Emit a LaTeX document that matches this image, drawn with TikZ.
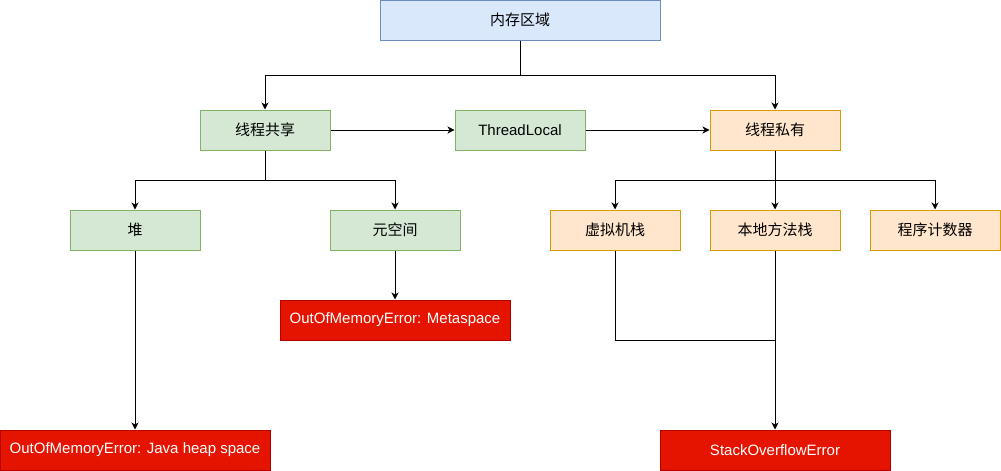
\documentclass[tikz,border=0pt]{standalone}
\usepackage{fontspec}
\setmainfont{Liberation Sans}
\newfontfamily\cjk{Noto Sans CJK SC}
\usetikzlibrary{arrows.meta}

\definecolor{blueFill}{HTML}{DAE8FC}
\definecolor{blueLine}{HTML}{6C8EBF}
\definecolor{greenFill}{HTML}{D5E8D4}
\definecolor{greenLine}{HTML}{82B366}
\definecolor{orangeFill}{HTML}{FFE6CC}
\definecolor{orangeLine}{HTML}{D79B00}
\definecolor{redFill}{HTML}{E51400}
\definecolor{redLine}{HTML}{B20000}

\tikzset{
    box/.style={draw, line width=1pt, minimum width=130pt, minimum height=40pt, inner sep=0pt,
                font=\fontsize{15}{17}\selectfont},
    topbox/.style={box, fill=blueFill, draw=blueLine, minimum width=280pt},
    shared/.style={box, fill=greenFill, draw=greenLine},
    private/.style={box, fill=orangeFill, draw=orangeLine},
    errbox/.style={box, fill=redFill, draw=redLine, text=white, minimum width=230pt},
    arr/.style={line width=1pt, -{Stealth[length=7pt,width=7pt,inset=2pt]}},
    line/.style={line width=1pt}
}

\begin{document}
\begin{tikzpicture}[x=1pt,y=1pt]
    \useasboundingbox (0,0) rectangle (1001,-471);

    \node[topbox] (mem) at (520,-20) {\cjk 内存区域};

    \node[shared] (share) at (265,-130) {\cjk 线程共享};
    \node[shared] (tl) at (520,-130) {ThreadLocal};
    \node[private] (priv) at (775,-130) {\cjk 线程私有};

    \node[shared] (heap) at (135,-230) {\cjk 堆};
    \node[shared] (meta) at (395,-230) {\cjk 元空间};
    \node[private] (vmstack) at (615,-230) {\cjk 虚拟机栈};
    \node[private] (native) at (775,-230) {\cjk 本地方法栈};
    \node[private] (pc) at (935,-230) {\cjk 程序计数器};

    \node[errbox] (oomMeta) at (395,-320) {OutOfMemoryError: Metaspace};
    \node[errbox, minimum width=270pt] (oomHeap) at (135,-450) {OutOfMemoryError: Java heap space};
    \node[errbox] (soe) at (775,-450) {StackOverflowError};

    \coordinate (join) at (775,-340);

    % top level
    \draw[arr] (mem.south) -- ++(0,-35) -| (share.north);
    \draw[arr] (mem.south) -- ++(0,-35) -| (priv.north);
    \draw[arr] (share) -- (tl);
    \draw[arr] (tl) -- (priv);

    % shared
    \draw[arr] (share.south) -- ++(0,-30) -| (heap.north);
    \draw[arr] (share.south) -- ++(0,-30) -| (meta.north);
    \draw[arr] (heap) -- (oomHeap);
    \draw[arr] (meta) -- (oomMeta);

    % private
    \draw[arr] (priv.south) -- ++(0,-30) -| (vmstack.north);
    \draw[arr] (priv) -- (native);
    \draw[arr] (priv.south) -- ++(0,-30) -| (pc.north);
    \draw[line] (vmstack.south) |- (join);
    \draw[arr] (native) -- (soe);
\end{tikzpicture}
\end{document}
